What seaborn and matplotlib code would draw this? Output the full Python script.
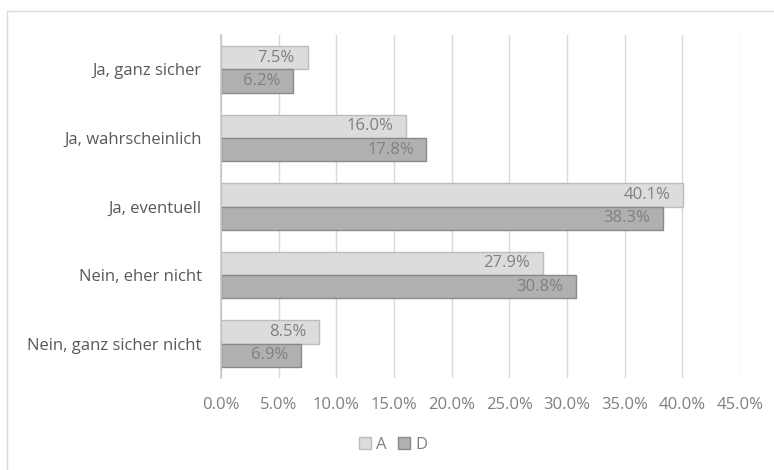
import matplotlib
matplotlib.use("Agg")
import matplotlib.pyplot as plt
import seaborn as sns
import pandas as pd
from matplotlib.patches import Rectangle, Patch

categories = ["Ja, ganz sicher", "Ja, wahrscheinlich", "Ja, eventuell",
              "Nein, eher nicht", "Nein, ganz sicher nicht"]
series_names = ["A", "D"]
values_A = [7.5, 16.0, 40.1, 27.9, 8.5]
values_D = [6.2, 17.8, 38.3, 30.8, 6.9]
xticks = [0, 5, 10, 15, 20, 25, 30, 35, 40, 45]

df = pd.DataFrame({
    "cat": categories * 2,
    "series": ["A"] * 5 + ["D"] * 5,
    "val": values_A + values_D,
})

sns.set_theme(style="white")
plt.rcParams['font.family'] = ['Open Sans', 'DejaVu Sans']
FS = 12

fig = plt.figure(figsize=(7.74, 4.70), dpi=100)
ax = fig.add_axes([221/774, 1 - 378/470, (740 - 221)/774, (378 - 35)/470])

face = {"A": "#dcdcdc", "D": "#b0b0b0"}
edge = {"A": "#bcbcbc", "D": "#8a8a8a"}
sns.barplot(data=df, y="cat", x="val", hue="series", order=categories,
            hue_order=series_names, palette=face, orient="h", width=0.68,
            ax=ax, legend=False, saturation=1)

for cont, s in zip(ax.containers, series_names):
    for p in cont:
        p.set_edgecolor(edge[s])
        p.set_linewidth(1.0)
        w = p.get_width()
        ax.annotate(f"{w:.1f}%", xy=(w, p.get_y() + p.get_height() / 2),
                    xytext=(-9, 0), textcoords="offset points",
                    ha="right", va="center", fontsize=FS, color="#808080")

ax.set_xlim(0, 45)
ax.set_xticks(xticks)
ax.set_xticklabels([f"{t:.1f}%" for t in xticks])
ax.set_xlabel("")
ax.set_ylabel("")
ax.grid(axis="x", color="#d9d9d9", linewidth=1)
ax.set_axisbelow(True)
for sp in ["top", "right", "bottom"]:
    ax.spines[sp].set_visible(False)
ax.spines["left"].set_color("#c8c8c8")
ax.tick_params(axis="x", colors="#808080", labelsize=FS, length=0, pad=14)
ax.tick_params(axis="y", colors="#595959", labelsize=FS, length=0, pad=14)
for lab in ax.get_xticklabels():
    lab.set_color("#808080")
for lab in ax.get_yticklabels():
    lab.set_color("#595959")

handles = [Patch(facecolor=face[s], edgecolor=edge[s]) for s in series_names]
fig.legend(handles, series_names, loc="center", bbox_to_anchor=(0.508, 0.053),
           ncol=2, frameon=False, fontsize=FS, handlelength=0.7,
           handleheight=0.7, handletextpad=0.3, columnspacing=0.7,
           labelcolor="#808080")

fig.patches.append(Rectangle((7/774, -0.05), 1.0, 1 - 11/470 + 0.05,
                             transform=fig.transFigure, fill=False,
                             edgecolor="#d9d9d9", linewidth=1))

fig.savefig("out.png", dpi=100)
